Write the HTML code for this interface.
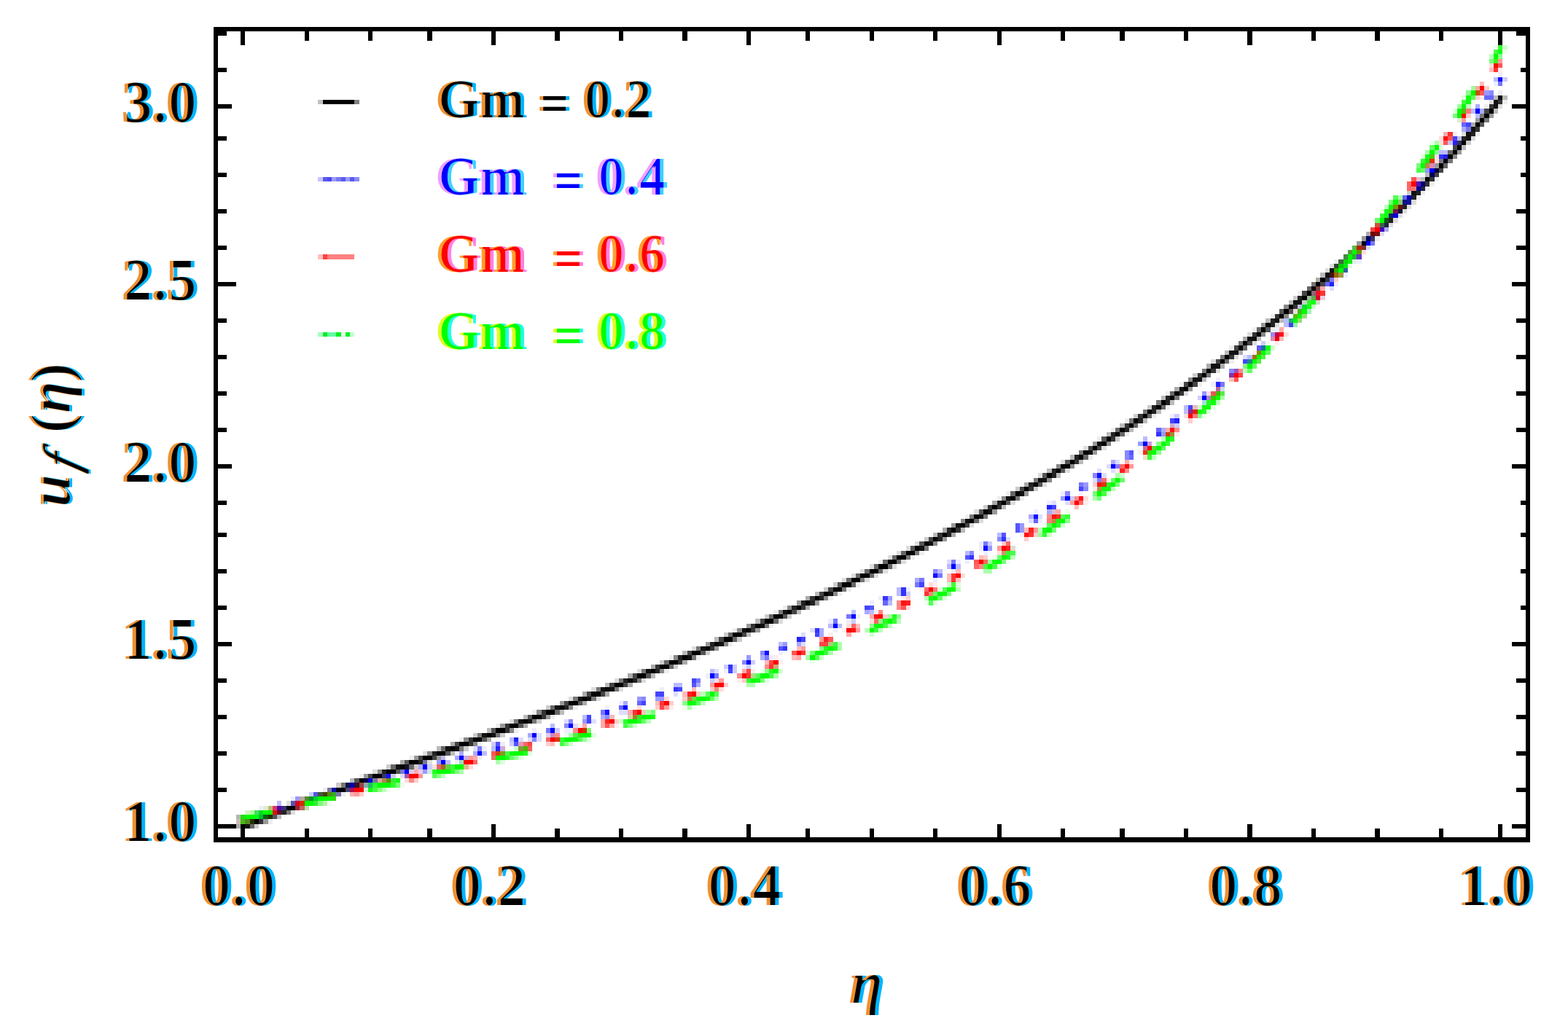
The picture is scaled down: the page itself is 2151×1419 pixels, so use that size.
<!DOCTYPE html>
<html lang="en"><head><meta charset="utf-8"><title>Velocity profile for different Gm</title>
<style>html,body{margin:0;padding:0;background:#fff;}svg{display:block;}text{font-family:"Liberation Serif","DejaVu Serif",serif;}.tk{font-weight:bold;font-size:81.25px;fill:#000;}.lg{font-weight:bold;font-size:75.00px;white-space:pre;}.ax{font-weight:bold;font-style:italic;font-size:81.25px;fill:#000;}</style></head><body>
<svg width="2151" height="1419" viewBox="0 0 2151 1419">
<rect x="0" y="0" width="2151" height="1419" fill="#ffffff"/>
<defs>
<filter id="fk" x="-5%" y="-20%" width="110%" height="140%" color-interpolation-filters="sRGB"><feMorphology in="SourceGraphic" operator="erode" radius="2.40 0" result="core"/><feOffset in="SourceGraphic" dx="-3.20" dy="0" result="lo"/><feFlood flood-color="#f09030"/><feComposite in2="lo" operator="in" result="lf"/><feOffset in="SourceGraphic" dx="3.20" dy="0" result="ro"/><feFlood flood-color="#00b4ff"/><feComposite in2="ro" operator="in" result="rf"/><feMerge><feMergeNode in="rf"/><feMergeNode in="lf"/><feMergeNode in="core"/></feMerge></filter>
<filter id="fy" x="-5%" y="-20%" width="110%" height="140%" color-interpolation-filters="sRGB"><feMorphology in="SourceGraphic" operator="erode" radius="0 1.20" result="base"/><feMorphology in="base" operator="erode" radius="0.60 0" result="core"/><feOffset in="base" dx="-3.00" dy="0" result="lo"/><feFlood flood-color="#f09030"/><feComposite in2="lo" operator="in" result="lf"/><feOffset in="base" dx="3.00" dy="0" result="ro"/><feFlood flood-color="#00b4ff"/><feComposite in2="ro" operator="in" result="rf"/><feMerge><feMergeNode in="rf"/><feMergeNode in="lf"/><feMergeNode in="core"/></feMerge></filter>
<filter id="ff" x="-5%" y="-20%" width="110%" height="140%" color-interpolation-filters="sRGB"><feOffset in="SourceGraphic" dx="-2.50" dy="0" result="lo"/><feFlood flood-color="#f09030"/><feComposite in2="lo" operator="in" result="lf"/><feOffset in="SourceGraphic" dx="2.50" dy="0" result="ro"/><feFlood flood-color="#00b4ff"/><feComposite in2="ro" operator="in" result="rf"/><feMerge><feMergeNode in="rf"/><feMergeNode in="lf"/><feMergeNode in="SourceGraphic"/></feMerge></filter>
<filter id="fb" x="-5%" y="-20%" width="110%" height="140%" color-interpolation-filters="sRGB"><feMorphology in="SourceGraphic" operator="erode" radius="2.20 0" result="core"/><feOffset in="SourceGraphic" dx="-3.00" dy="0" result="lo"/><feFlood flood-color="#f0a0ff"/><feComposite in2="lo" operator="in" result="lf"/><feOffset in="SourceGraphic" dx="3.00" dy="0" result="ro"/><feFlood flood-color="#40d0ff"/><feComposite in2="ro" operator="in" result="rf"/><feMerge><feMergeNode in="rf"/><feMergeNode in="lf"/><feMergeNode in="core"/></feMerge></filter>
<filter id="fr" x="-5%" y="-20%" width="110%" height="140%" color-interpolation-filters="sRGB"><feMorphology in="SourceGraphic" operator="erode" radius="2.20 0" result="core"/><feOffset in="SourceGraphic" dx="-3.00" dy="0" result="lo"/><feFlood flood-color="#ffa030"/><feComposite in2="lo" operator="in" result="lf"/><feOffset in="SourceGraphic" dx="3.00" dy="0" result="ro"/><feFlood flood-color="#ff80e0"/><feComposite in2="ro" operator="in" result="rf"/><feMerge><feMergeNode in="rf"/><feMergeNode in="lf"/><feMergeNode in="core"/></feMerge></filter>
<filter id="fg" x="-5%" y="-20%" width="110%" height="140%" color-interpolation-filters="sRGB"><feMorphology in="SourceGraphic" operator="erode" radius="2.20 0" result="core"/><feOffset in="SourceGraphic" dx="-3.00" dy="0" result="lo"/><feFlood flood-color="#e0ff20"/><feComposite in2="lo" operator="in" result="lf"/><feOffset in="SourceGraphic" dx="3.00" dy="0" result="ro"/><feFlood flood-color="#20ffe0"/><feComposite in2="ro" operator="in" result="rf"/><feMerge><feMergeNode in="rf"/><feMergeNode in="lf"/><feMergeNode in="core"/></feMerge></filter>
</defs>
<g transform="translate(5.000 5.650) scale(6.2500)" shape-rendering="crispEdges">
<path fill="#000000" d="M326 23h1v1h-1zM325 24h1v1h-1zM324 25h1v1h-1zM323 26h1v1h-1zM320 30h1v1h-1zM319 31h1v1h-1zM318 32h1v1h-1zM317 33h1v1h-1zM315 35h1v1h-1zM312 38h1v1h-1zM289 60h1v1h-1zM288 61h1v1h-1zM287 62h1v1h-1zM286 63h1v1h-1zM285 64h1v1h-1zM282 66h1v1h-1zM281 67h1v1h-1zM280 68h1v1h-1zM277 70h1v1h-1zM276 71h1v1h-1zM275 72h1v1h-1zM272 74h1v1h-1zM271 75h1v1h-1zM268 77h1v1h-1zM267 78h1v1h-1zM264 80h1v1h-1zM263 81h1v1h-1zM260 83h1v1h-1zM259 84h1v1h-1zM257 85h1v1h-1zM256 86h1v1h-1zM254 87h1v1h-1zM253 88h1v1h-1zM251 89h1v1h-1zM250 90h1v1h-1zM248 91h1v1h-1zM247 92h1v1h-1zM245 93h1v1h-1zM244 94h1v1h-1zM242 95h1v1h-1zM241 96h1v1h-1zM239 97h1v1h-1zM237 98h1v1h-1zM236 99h1v1h-1zM234 100h1v1h-1zM232 101h2v1h-2zM231 102h1v1h-1zM229 103h1v1h-1zM226 105h1v1h-1zM224 106h1v1h-1zM222 107h1v1h-1zM221 108h1v1h-1zM219 109h1v1h-1zM217 110h1v1h-1zM215 111h1v1h-1zM213 112h1v1h-1zM212 113h1v1h-1zM210 114h1v1h-1zM208 115h1v1h-1zM206 116h1v1h-1zM204 117h1v1h-1zM202 118h1v1h-1zM200 119h1v1h-1zM198 120h2v1h-2zM196 121h2v1h-2zM194 122h2v1h-2zM192 123h2v1h-2zM190 124h2v1h-2zM188 125h2v1h-2zM186 126h2v1h-2zM184 127h2v1h-2zM182 128h2v1h-2zM180 129h1v1h-1zM178 130h1v1h-1zM176 131h1v1h-1zM174 132h1v1h-1zM172 133h1v1h-1zM169 134h2v1h-2zM167 135h2v1h-2zM165 136h1v1h-1zM163 137h1v1h-1zM160 138h2v1h-2zM158 139h2v1h-2zM156 140h1v1h-1zM154 141h1v1h-1zM151 142h2v1h-2zM149 143h1v1h-1zM146 144h2v1h-2zM144 145h2v1h-2zM142 146h1v1h-1zM139 147h2v1h-2zM137 148h1v1h-1zM134 149h2v1h-2zM132 150h1v1h-1zM129 151h2v1h-2zM127 152h1v1h-1zM124 153h2v1h-2zM122 154h1v1h-1zM119 155h2v1h-2zM116 156h2v1h-2zM114 157h1v1h-1zM111 158h2v1h-2zM108 159h2v1h-2zM106 160h1v1h-1zM103 161h2v1h-2zM100 162h2v1h-2zM98 163h1v1h-1zM95 164h2v1h-2zM92 165h2v1h-2zM89 166h2v1h-2zM87 167h1v1h-1zM84 168h2v1h-2zM81 169h2v1h-2zM78 170h1v1h-1zM74 172h1v1h-1zM62 176h1v1h-1zM55 179h1v1h-1zM52 180h1v1h-1z"/>
<path fill="#000011" d="M316 34h1v1h-1zM298 52h1v1h-1zM73 172h1v1h-1zM63 176h1v1h-1z"/>
<path fill="#000033" d="M314 36h1v1h-1z"/>
<path fill="#000044" d="M79 170h1v1h-1z"/>
<path fill="#000055" d="M313 37h1v1h-1z"/>
<path fill="#000066" d="M299 51h1v1h-1z"/>
<path fill="#000077" d="M311 39h1v1h-1z"/>
<path fill="#000099" d="M310 40h1v1h-1z"/>
<path fill="#0000bb" d="M308 42h1v1h-1zM76 171h1v1h-1z"/>
<path fill="#0000dd" d="M305 46h1v1h-1zM80 170h1v1h-1z"/>
<path fill="#0000ee" d="M299 52h1v1h-1z"/>
<path fill="#0000ff" d="M323 23h1v1h-1zM313 36h1v1h-1zM263 86h1v1h-1zM250 96h1v1h-1zM243 101h1v1h-1zM233 108h1v1h-1zM208 123h1v1h-1zM186 134h1v1h-1zM182 136h1v1h-1zM163 144h1v1h-1zM155 147h1v1h-1zM136 154h1v1h-1zM124 158h1v1h-1zM120 159h1v1h-1zM116 160h1v1h-1zM104 164h1v1h-1zM100 165h1v1h-1zM96 166h1v1h-1zM92 167h1v1h-1zM88 168h1v1h-1z"/>
<path fill="#006611" d="M57 178h1v1h-1z"/>
<path fill="#009922" d="M67 174h1v1h-1z"/>
<path fill="#00bb33" d="M56 178h1v1h-1z"/>
<path fill="#00cc00" d="M293 57h1v1h-1z"/>
<path fill="#00cc33" d="M68 174h1v1h-1z"/>
<path fill="#00dd00" d="M294 56h1v1h-1z"/>
<path fill="#00dd22" d="M56 177h1v1h-1z"/>
<path fill="#00ee11" d="M294 57h1v1h-1z"/>
<path fill="#00ff00" d="M327 11h1v1h-1zM322 19h1v1h-1zM320 22h1v1h-1zM319 23h1v1h-1zM314 31h1v1h-1zM313 32h1v1h-1zM311 35h1v1h-1zM305 43h1v1h-1zM304 44h1v1h-1zM302 47h1v1h-1zM296 54h1v1h-1zM295 55h1v1h-1zM293 58h1v1h-1zM285 67h1v1h-1zM284 68h1v1h-1zM283 69h1v1h-1zM276 76h1v1h-1zM275 77h1v1h-1zM274 78h1v1h-1zM273 79h1v1h-1zM254 96h1v1h-1zM253 97h1v1h-1zM252 98h1v1h-1zM244 104h1v1h-1zM243 105h1v1h-1zM240 107h1v1h-1zM232 113h1v1h-1zM230 114h1v1h-1zM229 115h1v1h-1zM219 121h1v1h-1zM218 122h1v1h-1zM216 123h1v1h-1zM207 128h1v1h-1zM205 129h1v1h-1zM204 130h1v1h-1zM194 135h1v1h-1zM192 136h1v1h-1zM190 137h1v1h-1zM181 141h1v1h-1zM178 142h2v1h-2zM177 143h1v1h-1zM169 146h1v1h-1zM166 147h2v1h-2zM164 148h1v1h-1zM155 151h1v1h-1zM153 152h1v1h-1zM150 153h1v1h-1zM140 156h2v1h-2zM137 157h2v1h-2zM127 160h2v1h-2zM123 161h2v1h-2zM112 164h2v1h-2zM108 165h2v1h-2zM99 167h2v1h-2zM95 168h3v1h-3zM82 171h3v1h-3zM69 174h3v1h-3zM66 175h2v1h-2zM57 177h1v1h-1zM53 178h2v1h-2z"/>
<path fill="#00ff11" d="M55 178h1v1h-1z"/>
<path fill="#111111" d="M328 20h1v1h-1zM327 21h1v1h-1zM327 22h1v1h-1zM322 27h1v1h-1zM321 28h1v1h-1zM321 29h1v1h-1zM309 41h1v1h-1zM291 58h1v1h-1zM290 59h1v1h-1zM283 65h2v1h-2zM279 69h1v1h-1zM273 73h2v1h-2zM269 76h2v1h-2zM265 79h2v1h-2zM261 82h2v1h-2zM258 84h1v1h-1zM240 96h1v1h-1zM238 98h1v1h-1zM227 104h2v1h-2zM223 107h1v1h-1zM220 108h1v1h-1zM216 111h1v1h-1zM214 112h1v1h-1zM211 113h1v1h-1zM209 114h1v1h-1zM203 118h1v1h-1zM201 119h1v1h-1zM181 129h1v1h-1zM171 133h1v1h-1zM166 136h1v1h-1zM162 137h1v1h-1zM157 140h1v1h-1zM153 141h1v1h-1zM150 143h1v1h-1zM141 146h1v1h-1zM131 150h1v1h-1zM133 150h1v1h-1zM126 152h1v1h-1zM128 152h1v1h-1zM121 154h1v1h-1zM113 157h1v1h-1zM115 157h1v1h-1zM105 160h1v1h-1zM107 160h1v1h-1zM97 163h1v1h-1zM99 163h1v1h-1zM86 167h1v1h-1zM53 180h1v1h-1z"/>
<path fill="#111122" d="M88 167h1v1h-1z"/>
<path fill="#111133" d="M306 45h1v1h-1z"/>
<path fill="#111144" d="M75 171h1v1h-1z"/>
<path fill="#111188" d="M307 43h1v1h-1z"/>
<path fill="#111199" d="M308 43h1v1h-1z"/>
<path fill="#1111aa" d="M72 172h1v1h-1z"/>
<path fill="#1111ff" d="M328 16h1v1h-1zM240 103h1v1h-1zM226 112h1v1h-1zM215 119h1v1h-1zM204 125h1v1h-1zM167 142h1v1h-1zM132 155h1v1h-1zM84 169h1v1h-1z"/>
<path fill="#112266" d="M304 46h1v1h-1z"/>
<path fill="#115511" d="M303 47h1v1h-1z"/>
<path fill="#117799" d="M276 75h1v1h-1z"/>
<path fill="#11dd33" d="M285 66h1v1h-1z"/>
<path fill="#11ee00" d="M312 34h1v1h-1zM58 177h1v1h-1z"/>
<path fill="#11ee11" d="M319 24h1v1h-1zM295 56h1v1h-1z"/>
<path fill="#11ff00" d="M266 86h1v1h-1zM262 89h1v1h-1z"/>
<path fill="#11ff11" d="M328 10h1v1h-1zM321 20h1v1h-1zM321 21h1v1h-1zM312 33h1v1h-1zM303 45h1v1h-1zM303 46h1v1h-1zM287 65h1v1h-1zM286 66h1v1h-1zM277 75h1v1h-1zM265 87h1v1h-1zM263 88h2v1h-2zM255 95h1v1h-1zM241 106h2v1h-2zM231 113h1v1h-1zM228 115h1v1h-1zM217 122h1v1h-1zM208 128h1v1h-1zM206 129h1v1h-1zM203 130h1v1h-1zM191 136h1v1h-1zM165 148h1v1h-1zM152 152h1v1h-1zM154 152h1v1h-1zM151 153h1v1h-1zM142 156h1v1h-1zM125 161h1v1h-1zM111 164h1v1h-1zM86 170h1v1h-1zM80 172h1v1h-1z"/>
<path fill="#222222" d="M322 28h1v1h-1zM320 29h1v1h-1zM310 41h1v1h-1zM309 42h1v1h-1zM307 44h1v1h-1zM304 47h1v1h-1zM284 64h1v1h-1zM278 69h1v1h-1zM278 70h1v1h-1zM255 86h1v1h-1zM255 87h1v1h-1zM252 88h1v1h-1zM252 89h1v1h-1zM249 91h1v1h-1zM246 93h1v1h-1zM243 94h1v1h-1zM235 99h1v1h-1zM230 102h1v1h-1zM230 103h1v1h-1zM225 105h1v1h-1zM218 109h1v1h-1zM207 115h1v1h-1zM207 116h1v1h-1zM205 117h1v1h-1zM179 130h1v1h-1zM175 131h1v1h-1zM177 131h1v1h-1zM173 132h1v1h-1zM155 140h1v1h-1zM148 143h1v1h-1zM143 146h1v1h-1zM136 148h1v1h-1zM138 148h1v1h-1zM123 154h1v1h-1zM94 164h1v1h-1zM91 166h1v1h-1zM83 168h1v1h-1zM61 177h1v1h-1z"/>
<path fill="#222244" d="M311 40h1v1h-1zM303 48h1v1h-1z"/>
<path fill="#2222dd" d="M316 33h1v1h-1z"/>
<path fill="#2222ff" d="M318 30h1v1h-1zM291 61h1v1h-1zM266 83h1v1h-1zM257 91h1v1h-1zM229 110h1v1h-1zM174 139h1v1h-1zM112 161h1v1h-1zM108 163h1v1h-1z"/>
<path fill="#223300" d="M58 178h1v1h-1zM54 179h1v1h-1z"/>
<path fill="#228888" d="M273 78h1v1h-1z"/>
<path fill="#22aa00" d="M292 58h1v1h-1z"/>
<path fill="#22aa77" d="M282 69h1v1h-1z"/>
<path fill="#22bb22" d="M296 55h1v1h-1z"/>
<path fill="#22bb66" d="M80 171h1v1h-1z"/>
<path fill="#22dd11" d="M52 178h1v1h-1z"/>
<path fill="#22ee11" d="M126 160h1v1h-1z"/>
<path fill="#22ff22" d="M286 65h1v1h-1zM264 87h1v1h-1zM263 89h1v1h-1zM256 95h1v1h-1zM220 121h1v1h-1zM195 134h1v1h-1zM193 135h1v1h-1zM180 141h1v1h-1zM182 141h1v1h-1zM168 146h1v1h-1zM139 157h1v1h-1zM114 164h1v1h-1zM110 165h1v1h-1zM94 168h1v1h-1z"/>
<path fill="#22ff33" d="M81 171h1v1h-1z"/>
<path fill="#331122" d="M77 171h1v1h-1z"/>
<path fill="#333333" d="M328 21h1v1h-1zM326 22h1v1h-1zM323 27h1v1h-1zM313 38h1v1h-1zM312 39h1v1h-1zM283 66h1v1h-1zM279 68h1v1h-1zM274 72h1v1h-1zM269 77h1v1h-1zM265 80h1v1h-1zM262 81h1v1h-1zM258 85h1v1h-1zM249 90h1v1h-1zM246 92h1v1h-1zM243 95h1v1h-1zM235 100h1v1h-1zM225 106h1v1h-1zM216 110h1v1h-1zM218 110h1v1h-1zM209 115h1v1h-1zM205 116h1v1h-1zM177 130h1v1h-1zM175 132h1v1h-1zM164 136h1v1h-1zM164 137h1v1h-1zM155 141h1v1h-1zM148 144h1v1h-1zM143 145h1v1h-1zM118 155h1v1h-1zM118 156h1v1h-1zM110 158h1v1h-1zM110 159h1v1h-1zM102 161h1v1h-1zM102 162h1v1h-1zM56 179h1v1h-1z"/>
<path fill="#333344" d="M290 60h1v1h-1z"/>
<path fill="#333355" d="M319 30h1v1h-1z"/>
<path fill="#333366" d="M300 51h1v1h-1z"/>
<path fill="#333377" d="M83 169h1v1h-1zM61 176h1v1h-1z"/>
<path fill="#3333ff" d="M315 33h1v1h-1zM253 94h1v1h-1zM219 117h1v1h-1zM212 121h1v1h-1zM197 128h1v1h-1zM197 129h1v1h-1zM193 130h1v1h-1zM178 137h1v1h-1zM171 141h1v1h-1zM159 145h1v1h-1zM147 150h1v1h-1z"/>
<path fill="#334433" d="M292 57h1v1h-1z"/>
<path fill="#336644" d="M302 48h1v1h-1z"/>
<path fill="#336699" d="M294 58h1v1h-1z"/>
<path fill="#33aa22" d="M72 173h1v1h-1z"/>
<path fill="#33cc00" d="M265 86h1v1h-1z"/>
<path fill="#33dd11" d="M304 45h1v1h-1zM251 98h1v1h-1zM72 174h1v1h-1z"/>
<path fill="#33ee22" d="M242 105h1v1h-1z"/>
<path fill="#33ee33" d="M85 170h1v1h-1zM68 175h1v1h-1z"/>
<path fill="#33ff33" d="M328 9h1v1h-1zM311 34h1v1h-1zM302 46h1v1h-1zM255 96h1v1h-1zM251 99h1v1h-1zM233 112h1v1h-1zM231 114h1v1h-1zM228 116h1v1h-1zM220 120h1v1h-1zM195 135h1v1h-1zM182 140h1v1h-1zM180 142h1v1h-1zM163 148h1v1h-1zM136 157h1v1h-1zM122 161h1v1h-1zM98 167h1v1h-1zM98 168h1v1h-1zM85 171h1v1h-1z"/>
<path fill="#4400bb" d="M302 49h1v1h-1z"/>
<path fill="#441111" d="M291 59h1v1h-1z"/>
<path fill="#444400" d="M70 173h1v1h-1z"/>
<path fill="#444444" d="M325 23h1v1h-1zM318 31h1v1h-1zM315 36h1v1h-1zM314 37h1v1h-1zM289 61h1v1h-1zM285 63h1v1h-1zM273 74h1v1h-1zM270 75h1v1h-1zM266 78h1v1h-1zM259 83h1v1h-1zM261 83h1v1h-1zM238 97h1v1h-1zM240 97h1v1h-1zM223 106h1v1h-1zM211 114h1v1h-1zM203 117h1v1h-1zM181 128h1v1h-1zM179 129h1v1h-1zM173 133h1v1h-1zM166 135h1v1h-1zM162 138h1v1h-1zM157 139h1v1h-1zM150 142h1v1h-1zM138 147h1v1h-1zM133 149h1v1h-1zM136 149h1v1h-1zM128 151h1v1h-1zM131 151h1v1h-1zM123 153h1v1h-1zM99 162h1v1h-1zM91 165h1v1h-1zM94 165h1v1h-1zM80 169h1v1h-1z"/>
<path fill="#444477" d="M75 172h1v1h-1z"/>
<path fill="#4444ee" d="M282 70h1v1h-1z"/>
<path fill="#4444ff" d="M321 26h1v1h-1zM318 29h1v1h-1zM272 78h1v1h-1zM260 88h1v1h-1zM256 91h1v1h-1zM236 106h1v1h-1zM230 110h1v1h-1zM201 127h1v1h-1zM189 132h1v1h-1zM178 138h1v1h-1zM175 139h1v1h-1zM159 146h1v1h-1zM151 148h1v1h-1zM148 150h1v1h-1zM143 151h2v1h-2zM140 153h1v1h-1zM128 156h1v1h-1zM128 157h1v1h-1z"/>
<path fill="#445544" d="M69 173h1v1h-1z"/>
<path fill="#446644" d="M293 56h1v1h-1z"/>
<path fill="#448844" d="M294 55h1v1h-1z"/>
<path fill="#44bb00" d="M266 85h1v1h-1zM114 163h1v1h-1z"/>
<path fill="#44bb11" d="M284 67h1v1h-1zM52 179h1v1h-1z"/>
<path fill="#44cc11" d="M313 33h1v1h-1z"/>
<path fill="#44dd33" d="M139 156h1v1h-1z"/>
<path fill="#44dd66" d="M55 177h1v1h-1z"/>
<path fill="#44ee22" d="M327 12h1v1h-1z"/>
<path fill="#44ff33" d="M208 127h1v1h-1z"/>
<path fill="#44ff44" d="M327 10h1v1h-1zM320 21h1v1h-1zM310 36h1v1h-1zM241 107h1v1h-1zM221 120h1v1h-1zM215 123h1v1h-1zM217 123h1v1h-1zM193 136h1v1h-1zM191 137h1v1h-1zM168 147h1v1h-1zM136 158h1v1h-1zM122 162h1v1h-1zM110 164h1v1h-1zM81 172h1v1h-1z"/>
<path fill="#5500aa" d="M60 176h1v1h-1z"/>
<path fill="#5511bb" d="M310 39h1v1h-1z"/>
<path fill="#555555" d="M324 26h1v1h-1zM280 67h1v1h-1zM282 67h1v1h-1zM277 71h1v1h-1zM241 95h1v1h-1zM233 100h1v1h-1zM232 102h1v1h-1zM228 103h1v1h-1zM227 105h1v1h-1zM220 109h1v1h-1zM214 111h1v1h-1zM201 118h1v1h-1zM199 119h1v1h-1zM183 127h1v1h-1zM171 134h1v1h-1zM153 142h1v1h-1zM141 147h1v1h-1zM126 153h1v1h-1zM115 156h1v1h-1zM113 158h1v1h-1zM107 159h1v1h-1zM105 161h1v1h-1zM97 164h1v1h-1zM88 166h1v1h-1zM86 168h1v1h-1zM77 170h1v1h-1zM59 178h1v1h-1z"/>
<path fill="#5555aa" d="M63 175h1v1h-1z"/>
<path fill="#5555dd" d="M68 173h1v1h-1z"/>
<path fill="#5555ff" d="M247 98h1v1h-1zM222 114h1v1h-1zM222 115h1v1h-1zM219 116h1v1h-1zM211 121h1v1h-1zM190 132h1v1h-1zM170 141h1v1h-1zM151 149h1v1h-1zM108 162h1v1h-1zM112 162h1v1h-1z"/>
<path fill="#558811" d="M71 173h1v1h-1z"/>
<path fill="#558822" d="M53 179h1v1h-1z"/>
<path fill="#558833" d="M66 174h1v1h-1z"/>
<path fill="#559944" d="M295 54h1v1h-1z"/>
<path fill="#55aa55" d="M287 64h1v1h-1z"/>
<path fill="#55bb11" d="M320 23h1v1h-1zM283 68h1v1h-1z"/>
<path fill="#55bb44" d="M296 53h1v1h-1z"/>
<path fill="#55dd33" d="M252 97h1v1h-1z"/>
<path fill="#55ee44" d="M276 77h1v1h-1zM275 78h1v1h-1zM267 85h1v1h-1zM125 160h1v1h-1z"/>
<path fill="#55ff55" d="M322 20h1v1h-1zM305 42h1v1h-1zM277 76h1v1h-1zM254 97h1v1h-1zM232 112h1v1h-1zM229 114h1v1h-1zM206 128h1v1h-1zM203 131h1v1h-1zM178 143h1v1h-1zM165 147h1v1h-1zM154 151h1v1h-1zM156 151h1v1h-1zM152 153h1v1h-1zM126 161h1v1h-1zM94 169h1v1h-1z"/>
<path fill="#660033" d="M60 177h1v1h-1z"/>
<path fill="#661111" d="M306 44h1v1h-1z"/>
<path fill="#6633cc" d="M297 55h1v1h-1z"/>
<path fill="#6655ff" d="M275 75h1v1h-1z"/>
<path fill="#666666" d="M317 32h1v1h-1zM316 35h1v1h-1zM286 62h1v1h-1zM275 71h1v1h-1zM272 75h1v1h-1zM268 78h1v1h-1zM256 85h1v1h-1zM254 88h1v1h-1zM251 90h1v1h-1zM248 92h1v1h-1zM244 93h1v1h-1zM245 94h1v1h-1zM237 99h1v1h-1zM221 107h1v1h-1zM213 113h1v1h-1zM197 120h1v1h-1zM195 121h1v1h-1zM193 122h1v1h-1zM196 122h1v1h-1zM191 123h1v1h-1zM194 123h1v1h-1zM189 124h1v1h-1zM192 124h1v1h-1zM187 125h1v1h-1zM190 125h1v1h-1zM185 126h1v1h-1zM186 127h1v1h-1zM168 134h1v1h-1zM169 135h1v1h-1zM159 138h1v1h-1zM160 139h1v1h-1zM145 144h1v1h-1zM146 145h1v1h-1zM120 154h1v1h-1zM121 155h1v1h-1zM96 163h1v1h-1zM85 167h1v1h-1zM89 167h1v1h-1zM54 180h1v1h-1z"/>
<path fill="#6666ee" d="M307 42h1v1h-1z"/>
<path fill="#6666ff" d="M325 20h2v1h-2zM320 26h1v1h-1zM290 61h1v1h-1zM253 93h1v1h-1zM247 99h1v1h-1zM226 113h1v1h-1zM193 131h1v1h-1zM139 153h1v1h-1zM135 154h1v1h-1z"/>
<path fill="#668811" d="M84 170h1v1h-1z"/>
<path fill="#669900" d="M297 54h1v1h-1z"/>
<path fill="#66cc44" d="M97 167h1v1h-1z"/>
<path fill="#66dd44" d="M151 152h1v1h-1z"/>
<path fill="#66ff66" d="M313 31h1v1h-1zM311 36h1v1h-1zM301 47h1v1h-1zM274 79h1v1h-1zM273 80h1v1h-1zM243 104h1v1h-1zM245 104h1v1h-1zM218 121h1v1h-1zM204 129h1v1h-1zM205 130h1v1h-1zM155 152h1v1h-1zM140 157h1v1h-1zM111 165h1v1h-1z"/>
<path fill="#770000" d="M300 50h1v1h-1z"/>
<path fill="#771111" d="M301 50h1v1h-1z"/>
<path fill="#771155" d="M305 45h1v1h-1z"/>
<path fill="#773333" d="M298 53h1v1h-1z"/>
<path fill="#774444" d="M288 62h1v1h-1z"/>
<path fill="#777777" d="M324 24h1v1h-1zM325 25h1v1h-1zM317 34h1v1h-1zM287 61h1v1h-1zM271 74h1v1h-1zM267 77h1v1h-1zM263 80h1v1h-1zM264 81h1v1h-1zM257 86h1v1h-1zM253 87h1v1h-1zM250 89h1v1h-1zM247 91h1v1h-1zM236 98h1v1h-1zM226 104h1v1h-1zM222 108h1v1h-1zM212 112h1v1h-1zM215 112h1v1h-1zM202 119h1v1h-1zM200 120h1v1h-1zM198 121h1v1h-1zM188 126h1v1h-1zM184 128h1v1h-1zM170 133h1v1h-1zM167 136h1v1h-1zM152 141h1v1h-1zM151 143h1v1h-1zM140 146h1v1h-1zM135 148h1v1h-1zM139 148h1v1h-1zM130 150h1v1h-1zM134 150h1v1h-1zM125 152h1v1h-1zM129 152h1v1h-1zM112 157h1v1h-1zM116 157h1v1h-1zM104 160h1v1h-1zM108 160h1v1h-1zM100 163h1v1h-1zM74 171h1v1h-1zM62 177h1v1h-1z"/>
<path fill="#777788" d="M315 34h1v1h-1z"/>
<path fill="#777799" d="M92 166h1v1h-1zM81 170h1v1h-1zM71 172h1v1h-1z"/>
<path fill="#7777aa" d="M73 173h1v1h-1z"/>
<path fill="#7777cc" d="M87 168h1v1h-1z"/>
<path fill="#7777dd" d="M321 27h1v1h-1z"/>
<path fill="#7777ee" d="M291 60h1v1h-1z"/>
<path fill="#7777ff" d="M328 17h1v1h-1zM300 52h1v1h-1zM267 83h1v1h-1zM236 105h1v1h-1zM215 118h1v1h-1zM208 122h1v1h-1zM205 125h1v1h-1zM201 126h1v1h-1zM200 127h1v1h-1zM185 134h1v1h-1zM182 135h1v1h-1zM167 143h1v1h-1zM156 147h1v1h-1zM152 148h1v1h-1zM131 155h1v1h-1zM119 159h1v1h-1zM104 163h1v1h-1z"/>
<path fill="#779900" d="M305 44h1v1h-1z"/>
<path fill="#77ff77" d="M326 12h1v1h-1zM318 24h1v1h-1zM310 35h1v1h-1zM304 43h1v1h-1zM244 105h1v1h-1zM239 107h1v1h-1zM240 108h1v1h-1zM230 115h1v1h-1zM219 122h1v1h-1zM207 129h1v1h-1zM177 142h1v1h-1zM166 148h1v1h-1zM142 155h1v1h-1zM99 168h1v1h-1zM86 171h1v1h-1zM69 175h1v1h-1z"/>
<path fill="#8833aa" d="M269 81h1v1h-1z"/>
<path fill="#886677" d="M287 63h1v1h-1z"/>
<path fill="#8877ee" d="M240 104h1v1h-1z"/>
<path fill="#8877ff" d="M244 101h1v1h-1z"/>
<path fill="#888811" d="M275 76h1v1h-1z"/>
<path fill="#888888" d="M318 33h1v1h-1zM281 66h1v1h-1zM281 68h1v1h-1zM276 72h1v1h-1zM260 82h1v1h-1zM242 96h1v1h-1zM231 101h1v1h-1zM234 101h1v1h-1zM229 104h1v1h-1zM219 108h1v1h-1zM210 113h1v1h-1zM204 118h1v1h-1zM182 129h1v1h-1zM180 130h1v1h-1zM172 132h1v1h-1zM161 137h1v1h-1zM158 140h1v1h-1zM147 143h1v1h-1zM144 146h1v1h-1zM124 154h1v1h-1zM117 155h1v1h-1zM111 159h1v1h-1zM101 161h1v1h-1zM103 162h1v1h-1zM93 164h1v1h-1zM82 168h1v1h-1z"/>
<path fill="#8888ff" d="M326 19h1v1h-1zM269 80h1v1h-1zM246 98h1v1h-1zM246 99h1v1h-1zM239 103h1v1h-1zM237 106h1v1h-1zM233 107h1v1h-1zM218 117h1v1h-1zM212 120h1v1h-1zM204 124h1v1h-1zM166 142h1v1h-1zM162 144h1v1h-1zM140 152h1v1h-1zM132 156h1v1h-1zM124 157h1v1h-1zM123 158h1v1h-1zM116 161h1v1h-1z"/>
<path fill="#889922" d="M109 164h1v1h-1z"/>
<path fill="#889933" d="M113 163h1v1h-1z"/>
<path fill="#88aaaa" d="M79 171h1v1h-1z"/>
<path fill="#88cc66" d="M306 43h1v1h-1z"/>
<path fill="#88ee77" d="M128 159h1v1h-1z"/>
<path fill="#88ee88" d="M272 79h1v1h-1z"/>
<path fill="#88ff77" d="M82 172h1v1h-1z"/>
<path fill="#88ff88" d="M328 11h1v1h-1zM321 19h1v1h-1zM314 32h1v1h-1zM262 90h1v1h-1zM253 96h1v1h-1zM253 98h1v1h-1zM233 113h1v1h-1zM196 134h1v1h-1zM190 136h1v1h-1zM179 141h1v1h-1zM167 146h1v1h-1zM149 153h1v1h-1zM137 158h1v1h-1zM123 162h1v1h-1zM95 169h1v1h-1z"/>
<path fill="#992233" d="M64 176h1v1h-1z"/>
<path fill="#992288" d="M260 89h1v1h-1z"/>
<path fill="#994444" d="M78 171h1v1h-1z"/>
<path fill="#9955bb" d="M270 80h1v1h-1z"/>
<path fill="#996600" d="M292 59h1v1h-1z"/>
<path fill="#997711" d="M274 77h1v1h-1z"/>
<path fill="#998822" d="M138 156h1v1h-1z"/>
<path fill="#9988ee" d="M278 72h1v1h-1z"/>
<path fill="#999944" d="M293 59h1v1h-1z"/>
<path fill="#999999" d="M326 24h1v1h-1zM323 25h1v1h-1zM319 32h1v1h-1zM314 35h1v1h-1zM298 51h1v1h-1zM297 52h1v1h-1zM276 70h1v1h-1zM260 84h1v1h-1zM239 96h1v1h-1zM239 98h1v1h-1zM224 107h1v1h-1zM217 111h1v1h-1zM208 114h1v1h-1zM206 117h1v1h-1zM174 131h1v1h-1zM178 131h1v1h-1zM163 136h1v1h-1zM165 137h1v1h-1zM154 140h1v1h-1zM156 141h1v1h-1zM122 153h1v1h-1zM119 156h1v1h-1zM109 158h1v1h-1zM90 165h1v1h-1zM95 165h1v1h-1zM79 169h1v1h-1zM57 179h1v1h-1z"/>
<path fill="#9999ee" d="M254 94h1v1h-1z"/>
<path fill="#9999ff" d="M325 19h1v1h-1zM312 36h1v1h-1zM263 85h1v1h-1zM249 96h1v1h-1zM237 105h1v1h-1zM232 108h1v1h-1zM223 114h1v1h-1zM223 115h1v1h-1zM216 119h1v1h-1zM194 130h1v1h-1zM171 140h1v1h-1zM163 143h1v1h-1zM139 152h1v1h-1zM143 152h2v1h-2zM127 157h1v1h-1zM95 166h1v1h-1zM92 168h1v1h-1zM64 174h1v1h-1z"/>
<path fill="#99bb99" d="M286 64h1v1h-1z"/>
<path fill="#99dd77" d="M285 68h1v1h-1zM284 69h1v1h-1z"/>
<path fill="#99ddbb" d="M100 166h1v1h-1z"/>
<path fill="#99ee88" d="M192 135h1v1h-1z"/>
<path fill="#99eeaa" d="M283 70h1v1h-1z"/>
<path fill="#99ff99" d="M322 18h1v1h-1zM319 22h1v1h-1zM227 116h1v1h-1zM216 122h1v1h-1zM194 134h1v1h-1zM127 161h1v1h-1zM112 165h1v1h-1z"/>
<path fill="#aa1155" d="M76 172h1v1h-1z"/>
<path fill="#aa55aa" d="M88 169h1v1h-1z"/>
<path fill="#aa6622" d="M96 167h1v1h-1z"/>
<path fill="#aa8833" d="M256 94h1v1h-1z"/>
<path fill="#aa8855" d="M83 170h1v1h-1z"/>
<path fill="#aa88bb" d="M264 86h1v1h-1z"/>
<path fill="#aa9944" d="M240 106h1v1h-1z"/>
<path fill="#aaaaaa" d="M322 26h1v1h-1zM299 50h1v1h-1zM288 60h1v1h-1zM272 73h1v1h-1zM271 76h1v1h-1zM264 79h1v1h-1zM267 79h1v1h-1zM257 84h1v1h-1zM224 105h1v1h-1zM217 109h1v1h-1zM206 115h1v1h-1zM208 116h1v1h-1zM176 130h1v1h-1zM176 132h1v1h-1zM149 144h1v1h-1zM142 145h1v1h-1zM137 147h1v1h-1zM137 149h1v1h-1zM127 151h1v1h-1zM132 151h1v1h-1zM127 153h1v1h-1zM114 158h1v1h-1zM106 161h1v1h-1zM98 162h1v1h-1zM87 166h1v1h-1zM51 180h1v1h-1zM52 181h1v1h-1z"/>
<path fill="#aaaaee" d="M303 49h1v1h-1z"/>
<path fill="#aaaaff" d="M323 22h1v1h-1zM324 23h1v1h-1zM320 27h1v1h-1zM254 93h1v1h-1zM243 100h1v1h-1zM229 111h1v1h-1zM225 112h1v1h-1zM200 126h1v1h-1zM189 133h1v1h-1zM179 137h1v1h-1zM179 138h1v1h-1zM174 140h1v1h-1zM166 143h1v1h-1zM152 149h1v1h-1zM136 153h1v1h-1zM131 156h1v1h-1zM115 160h1v1h-1zM100 164h1v1h-1zM103 164h1v1h-1zM99 165h1v1h-1zM91 167h1v1h-1z"/>
<path fill="#aabbaa" d="M51 178h1v1h-1z"/>
<path fill="#aacc77" d="M181 140h1v1h-1z"/>
<path fill="#aadd88" d="M164 147h1v1h-1z"/>
<path fill="#aadddd" d="M263 87h1v1h-1z"/>
<path fill="#aaeebb" d="M286 67h1v1h-1z"/>
<path fill="#aaff99" d="M54 177h1v1h-1z"/>
<path fill="#aaffaa" d="M314 30h1v1h-1zM312 32h1v1h-1zM306 42h1v1h-1zM267 86h1v1h-1zM244 103h1v1h-1zM239 108h1v1h-1zM215 124h2v1h-2zM183 140h1v1h-1zM183 141h1v1h-1zM181 142h1v1h-1zM176 143h1v1h-1zM169 147h1v1h-1zM163 149h2v1h-2zM150 154h1v1h-1zM141 155h1v1h-1zM124 160h1v1h-1zM108 166h1v1h-1zM100 168h1v1h-1z"/>
<path fill="#bb2200" d="M297 53h1v1h-1z"/>
<path fill="#bb5500" d="M323 19h1v1h-1z"/>
<path fill="#bb6666" d="M65 176h1v1h-1z"/>
<path fill="#bb6699" d="M266 84h1v1h-1z"/>
<path fill="#bb8844" d="M312 35h1v1h-1zM230 113h1v1h-1zM150 152h1v1h-1z"/>
<path fill="#bbaa99" d="M65 174h1v1h-1z"/>
<path fill="#bbbb77" d="M58 176h1v1h-1z"/>
<path fill="#bbbbbb" d="M327 20h1v1h-1zM329 20h1v1h-1zM327 23h1v1h-1zM320 31h1v1h-1zM312 37h1v1h-1zM311 38h1v1h-1zM289 59h1v1h-1zM282 65h1v1h-1zM277 69h1v1h-1zM280 69h1v1h-1zM275 73h1v1h-1zM268 76h1v1h-1zM263 82h1v1h-1zM254 86h1v1h-1zM256 87h1v1h-1zM253 89h1v1h-1zM250 91h1v1h-1zM245 92h1v1h-1zM247 93h1v1h-1zM242 94h1v1h-1zM234 99h1v1h-1zM236 100h1v1h-1zM229 102h1v1h-1zM231 103h1v1h-1zM219 110h1v1h-1zM210 115h1v1h-1zM204 116h1v1h-1zM178 129h1v1h-1zM174 133h1v1h-1zM165 135h1v1h-1zM163 138h1v1h-1zM156 139h1v1h-1zM149 142h1v1h-1zM142 147h1v1h-1zM132 149h1v1h-1zM122 155h1v1h-1zM114 156h1v1h-1zM106 159h1v1h-1zM95 163h1v1h-1zM98 164h1v1h-1zM76 170h1v1h-1zM60 178h1v1h-1z"/>
<path fill="#bbbbdd" d="M284 66h1v1h-1z"/>
<path fill="#bbbbee" d="M319 29h1v1h-1zM96 165h1v1h-1z"/>
<path fill="#bbbbff" d="M327 16h1v1h-1zM322 23h1v1h-1zM323 24h1v1h-1zM315 32h2v1h-2zM281 69h1v1h-1zM281 70h1v1h-1zM273 77h1v1h-1zM259 88h1v1h-1zM259 89h1v1h-1zM250 95h1v1h-1zM218 116h1v1h-1zM211 120h1v1h-1zM207 123h1v1h-1zM209 123h1v1h-1zM205 124h1v1h-1zM196 128h1v1h-1zM196 129h1v1h-1zM194 131h1v1h-1zM186 133h1v1h-1zM190 133h1v1h-1zM181 136h1v1h-1zM183 136h1v1h-1zM170 140h1v1h-1zM155 146h1v1h-1zM147 149h2v1h-2zM127 156h1v1h-1zM120 158h1v1h-1zM111 161h1v1h-1zM107 163h1v1h-1zM105 164h1v1h-1zM97 166h1v1h-1zM60 175h1v1h-1z"/>
<path fill="#bbddaa" d="M66 176h1v1h-1z"/>
<path fill="#bbeeaa" d="M70 175h1v1h-1z"/>
<path fill="#bbffbb" d="M326 11h1v1h-1zM321 22h1v1h-1zM303 44h1v1h-1zM272 80h1v1h-1zM266 87h1v1h-1zM254 95h1v1h-1zM252 99h1v1h-1zM243 106h1v1h-1zM227 115h1v1h-1zM221 121h1v1h-1zM209 128h1v1h-1zM202 130h1v1h-1zM196 135h1v1h-1zM194 136h1v1h-1zM189 137h1v1h-1zM192 137h1v1h-1zM153 151h1v1h-1zM156 152h1v1h-1zM153 153h1v1h-1zM141 157h1v1h-1zM96 169h1v1h-1zM83 172h1v1h-1z"/>
<path fill="#cc0044" d="M279 72h1v1h-1z"/>
<path fill="#cc3300" d="M127 159h1v1h-1zM65 175h1v1h-1z"/>
<path fill="#cc4411" d="M255 94h1v1h-1zM108 164h1v1h-1z"/>
<path fill="#cc5533" d="M301 48h1v1h-1z"/>
<path fill="#cc6699" d="M250 97h1v1h-1z"/>
<path fill="#cc88bb" d="M120 160h1v1h-1z"/>
<path fill="#cc9966" d="M219 120h1v1h-1z"/>
<path fill="#cc99dd" d="M251 96h1v1h-1z"/>
<path fill="#ccaa77" d="M169 145h1v1h-1z"/>
<path fill="#ccaacc" d="M256 92h1v1h-1z"/>
<path fill="#ccaadd" d="M109 163h1v1h-1zM101 165h1v1h-1z"/>
<path fill="#ccbbbb" d="M51 179h1v1h-1z"/>
<path fill="#ccbbee" d="M317 30h1v1h-1z"/>
<path fill="#cccccc" d="M321 30h1v1h-1zM308 41h1v1h-1zM283 64h1v1h-1zM285 65h1v1h-1zM261 81h1v1h-1zM251 88h1v1h-1zM248 90h1v1h-1zM244 95h1v1h-1zM222 106h1v1h-1zM226 106h1v1h-1zM215 110h1v1h-1zM202 117h1v1h-1zM182 127h1v1h-1zM180 128h1v1h-1zM167 134h1v1h-1zM172 134h1v1h-1zM158 138h1v1h-1zM161 139h1v1h-1zM154 142h1v1h-1zM144 144h1v1h-1zM147 145h1v1h-1zM119 154h1v1h-1zM117 157h1v1h-1zM103 160h1v1h-1zM109 160h1v1h-1zM101 163h1v1h-1zM84 167h1v1h-1zM90 167h1v1h-1zM73 171h1v1h-1zM55 180h1v1h-1z"/>
<path fill="#ccccee" d="M85 169h1v1h-1z"/>
<path fill="#ccccff" d="M329 16h1v1h-1zM276 74h1v1h-1zM262 86h1v1h-1zM257 90h1v1h-1zM257 92h1v1h-1zM234 108h1v1h-1zM216 118h1v1h-1zM198 129h1v1h-1zM186 135h1v1h-1zM164 144h1v1h-1zM158 145h1v1h-1zM160 145h1v1h-1zM163 145h1v1h-1zM160 146h1v1h-1zM155 148h1v1h-1zM121 159h1v1h-1zM107 162h1v1h-1zM111 162h1v1h-1zM93 167h1v1h-1zM67 173h1v1h-1z"/>
<path fill="#ccddcc" d="M288 65h1v1h-1z"/>
<path fill="#ccddee" d="M267 84h1v1h-1z"/>
<path fill="#cceedd" d="M93 168h1v1h-1z"/>
<path fill="#ccffcc" d="M329 9h1v1h-1zM287 66h1v1h-1zM278 75h1v1h-1zM262 88h1v1h-1zM245 103h1v1h-1zM232 114h1v1h-1zM229 116h1v1h-1zM207 127h1v1h-1zM190 138h1v1h-1zM179 143h1v1h-1zM170 146h1v1h-1zM135 157h1v1h-1zM138 158h1v1h-1zM124 162h1v1h-1zM112 163h1v1h-1z"/>
<path fill="#dd0022" d="M288 64h1v1h-1zM64 175h1v1h-1z"/>
<path fill="#dd1100" d="M59 177h1v1h-1z"/>
<path fill="#dd2200" d="M261 89h1v1h-1z"/>
<path fill="#dd3311" d="M313 34h1v1h-1zM241 105h1v1h-1zM121 161h1v1h-1z"/>
<path fill="#dd3366" d="M59 176h1v1h-1z"/>
<path fill="#dd6666" d="M95 167h1v1h-1z"/>
<path fill="#dd7766" d="M107 165h1v1h-1z"/>
<path fill="#dd88aa" d="M278 73h1v1h-1z"/>
<path fill="#dd88bb" d="M313 35h1v1h-1z"/>
<path fill="#dd99bb" d="M113 162h1v1h-1z"/>
<path fill="#ddaa99" d="M82 170h1v1h-1z"/>
<path fill="#ddbb88" d="M101 167h1v1h-1z"/>
<path fill="#ddbbcc" d="M230 111h1v1h-1z"/>
<path fill="#ddccaa" d="M137 156h1v1h-1z"/>
<path fill="#ddccee" d="M89 168h1v1h-1z"/>
<path fill="#ddccff" d="M119 160h1v1h-1z"/>
<path fill="#ddddcc" d="M221 119h1v1h-1z"/>
<path fill="#dddddd" d="M326 21h1v1h-1zM328 22h1v1h-1zM320 28h1v1h-1zM322 29h1v1h-1zM309 43h1v1h-1zM308 44h1v1h-1zM307 45h1v1h-1zM305 47h1v1h-1zM304 48h1v1h-1zM291 57h1v1h-1zM290 58h1v1h-1zM279 70h1v1h-1zM273 72h1v1h-1zM274 74h1v1h-1zM270 77h1v1h-1zM265 78h1v1h-1zM266 80h1v1h-1zM259 85h1v1h-1zM237 97h1v1h-1zM241 97h1v1h-1zM232 100h1v1h-1zM233 102h1v1h-1zM227 103h1v1h-1zM228 105h1v1h-1zM221 109h1v1h-1zM213 111h1v1h-1zM214 113h1v1h-1zM212 114h1v1h-1zM200 118h1v1h-1zM198 119h1v1h-1zM196 120h1v1h-1zM194 121h1v1h-1zM197 122h1v1h-1zM190 123h1v1h-1zM195 123h1v1h-1zM188 124h1v1h-1zM193 124h1v1h-1zM186 125h1v1h-1zM191 125h1v1h-1zM184 126h1v1h-1zM189 126h1v1h-1zM170 135h1v1h-1zM151 141h1v1h-1zM139 146h1v1h-1zM134 148h1v1h-1zM140 148h1v1h-1zM129 150h1v1h-1zM135 150h1v1h-1zM124 152h1v1h-1zM130 152h1v1h-1zM111 157h1v1h-1zM92 164h1v1h-1zM93 166h1v1h-1zM81 168h1v1h-1zM62 175h1v1h-1zM63 177h1v1h-1z"/>
<path fill="#ddddee" d="M306 46h1v1h-1zM302 50h1v1h-1zM299 53h1v1h-1z"/>
<path fill="#ddddff" d="M291 62h1v1h-1zM272 77h1v1h-1zM244 100h1v1h-1zM242 101h1v1h-1zM240 102h1v1h-1zM243 102h1v1h-1zM241 103h1v1h-1zM239 104h1v1h-1zM230 109h1v1h-1zM233 109h1v1h-1zM227 112h1v1h-1zM225 113h1v1h-1zM220 117h1v1h-1zM207 122h1v1h-1zM177 137h1v1h-1zM175 138h1v1h-1zM175 140h1v1h-1zM156 146h1v1h-1zM147 151h1v1h-1zM135 155h2v1h-2zM123 157h1v1h-1zM129 157h1v1h-1zM125 158h1v1h-1zM117 160h1v1h-1zM113 161h1v1h-1zM115 161h1v1h-1zM117 161h1v1h-1zM103 163h1v1h-1zM87 169h1v1h-1z"/>
<path fill="#ddeecc" d="M319 25h1v1h-1zM57 176h1v1h-1zM53 177h1v1h-1z"/>
<path fill="#ddeedd" d="M79 172h1v1h-1z"/>
<path fill="#ddeeee" d="M296 56h1v1h-1z"/>
<path fill="#ddffdd" d="M320 20h1v1h-1zM318 23h1v1h-1zM315 31h1v1h-1zM311 33h1v1h-1zM302 45h1v1h-1zM295 57h1v1h-1zM265 88h1v1h-1zM264 89h1v1h-1zM242 107h1v1h-1zM218 123h1v1h-1zM209 127h1v1h-1zM205 128h1v1h-1zM206 130h1v1h-1zM204 131h1v1h-1zM176 142h1v1h-1zM167 148h1v1h-1zM129 160h1v1h-1zM128 161h1v1h-1zM115 164h1v1h-1zM113 165h1v1h-1zM109 166h1v1h-1z"/>
<path fill="#ee0011" d="M279 73h1v1h-1z"/>
<path fill="#ee1100" d="M327 13h1v1h-1zM320 24h1v1h-1z"/>
<path fill="#ee1122" d="M288 63h1v1h-1z"/>
<path fill="#ee3311" d="M250 98h1v1h-1z"/>
<path fill="#ee3322" d="M231 112h1v1h-1z"/>
<path fill="#ee4444" d="M300 49h1v1h-1z"/>
<path fill="#ee5555" d="M265 85h1v1h-1z"/>
<path fill="#ee6655" d="M115 163h1v1h-1z"/>
<path fill="#ee7777" d="M309 40h1v1h-1z"/>
<path fill="#ee8877" d="M203 129h1v1h-1zM156 150h1v1h-1z"/>
<path fill="#eebbbb" d="M261 88h1v1h-1zM133 156h1v1h-1z"/>
<path fill="#eebbcc" d="M310 38h1v1h-1z"/>
<path fill="#eeccbb" d="M140 155h1v1h-1z"/>
<path fill="#eeccdd" d="M289 64h1v1h-1z"/>
<path fill="#eeccee" d="M91 168h1v1h-1z"/>
<path fill="#eeddcc" d="M250 99h1v1h-1z"/>
<path fill="#eedddd" d="M283 67h1v1h-1z"/>
<path fill="#eeeeee" d="M328 19h1v1h-1zM329 21h1v1h-1zM325 22h1v1h-1zM323 28h1v1h-1zM314 38h1v1h-1zM313 39h1v1h-1zM312 40h1v1h-1zM311 41h1v1h-1zM310 42h1v1h-1zM301 51h1v1h-1zM292 56h1v1h-1zM284 63h1v1h-1zM278 68h1v1h-1zM274 71h1v1h-1zM278 71h1v1h-1zM269 75h1v1h-1zM269 78h1v1h-1zM258 83h1v1h-1zM262 83h1v1h-1zM255 85h1v1h-1zM255 88h1v1h-1zM252 90h1v1h-1zM246 91h1v1h-1zM249 92h1v1h-1zM243 93h1v1h-1zM246 94h1v1h-1zM240 95h1v1h-1zM238 99h1v1h-1zM220 107h1v1h-1zM218 108h1v1h-1zM223 108h1v1h-1zM211 112h1v1h-1zM201 120h1v1h-1zM199 121h1v1h-1zM192 122h1v1h-1zM187 127h1v1h-1zM185 128h1v1h-1zM183 129h1v1h-1zM181 130h1v1h-1zM171 132h1v1h-1zM169 133h1v1h-1zM168 136h1v1h-1zM160 137h1v1h-1zM159 140h1v1h-1zM146 143h1v1h-1zM152 143h1v1h-1zM145 146h1v1h-1zM125 154h1v1h-1zM116 155h1v1h-1zM120 156h1v1h-1zM108 158h1v1h-1zM112 159h1v1h-1zM100 161h1v1h-1zM104 162h1v1h-1zM89 165h1v1h-1zM78 169h1v1h-1zM70 172h1v1h-1zM74 173h1v1h-1zM58 179h1v1h-1z"/>
<path fill="#eeeeff" d="M328 15h1v1h-1zM327 17h1v1h-1zM297 56h1v1h-1zM294 59h1v1h-1zM292 61h1v1h-1zM279 71h1v1h-1zM266 82h1v1h-1zM265 83h1v1h-1zM256 90h1v1h-1zM232 107h1v1h-1zM229 109h1v1h-1zM226 111h1v1h-1zM227 113h1v1h-1zM214 118h1v1h-1zM214 119h1v1h-1zM215 120h1v1h-1zM209 122h1v1h-1zM211 122h1v1h-1zM208 124h1v1h-1zM204 126h1v1h-1zM198 128h1v1h-1zM192 130h1v1h-1zM190 131h1v1h-1zM187 134h1v1h-1zM181 135h1v1h-1zM185 135h1v1h-1zM182 137h1v1h-1zM170 142h1v1h-1zM168 143h1v1h-1zM162 145h1v1h-1zM158 146h1v1h-1zM154 147h1v1h-1zM144 150h1v1h-1zM135 153h1v1h-1zM132 154h1v1h-1zM116 159h1v1h-1zM123 159h2v1h-2zM109 162h1v1h-1zM105 163h1v1h-1zM99 164h1v1h-1zM104 165h1v1h-1zM99 166h1v1h-1zM63 174h1v1h-1zM56 176h1v1h-1z"/>
<path fill="#eeffee" d="M327 9h1v1h-1zM329 10h1v1h-1zM322 21h1v1h-1zM313 30h1v1h-1zM277 74h1v1h-1zM263 90h1v1h-1zM256 96h1v1h-1zM233 111h1v1h-1zM228 114h1v1h-1zM217 121h1v1h-1zM220 122h1v1h-1zM202 131h1v1h-1zM177 144h1v1h-1zM166 146h1v1h-1zM149 154h1v1h-1zM151 154h1v1h-1zM123 160h1v1h-1zM87 171h1v1h-1zM84 172h1v1h-1zM71 175h1v1h-1z"/>
<path fill="#ff0000" d="M324 18h1v1h-1zM309 39h1v1h-1zM301 49h1v1h-1zM270 81h1v1h-1zM260 90h1v1h-1zM251 97h1v1h-1zM246 101h1v1h-1zM235 109h1v1h-1zM219 119h1v1h-1zM214 122h1v1h-1zM209 125h1v1h-1zM203 128h1v1h-1zM192 134h1v1h-1zM185 137h1v1h-1zM174 142h1v1h-1zM169 144h1v1h-1zM162 147h1v1h-1zM156 149h2v1h-2zM151 151h1v1h-1zM145 153h1v1h-1zM139 155h1v1h-1zM133 157h1v1h-1zM126 159h1v1h-1zM120 161h1v1h-1zM101 166h2v1h-2zM89 169h2v1h-2zM77 172h2v1h-2z"/>
<path fill="#ff1111" d="M316 29h1v1h-1zM280 72h1v1h-1zM256 93h1v1h-1zM240 105h1v1h-1zM236 108h1v1h-1zM230 112h1v1h-1zM224 116h1v1h-1zM197 131h1v1h-1zM191 134h1v1h-1zM186 137h1v1h-1z"/>
<path fill="#ff2222" d="M245 102h1v1h-1zM225 115h1v1h-1zM220 119h1v1h-1zM198 131h1v1h-1zM180 139h1v1h-1zM150 151h1v1h-1zM132 157h1v1h-1z"/>
<path fill="#ff3333" d="M327 14h1v1h-1zM317 28h1v1h-1zM289 63h1v1h-1zM225 116h1v1h-1zM208 125h1v1h-1zM208 126h1v1h-1zM202 129h1v1h-1zM175 142h1v1h-1zM168 145h1v1h-1zM163 147h1v1h-1zM144 153h1v1h-1zM138 155h1v1h-1z"/>
<path fill="#ff4444" d="M271 81h1v1h-1zM179 140h2v1h-2zM168 144h1v1h-1zM163 146h1v1h-1zM144 154h1v1h-1zM115 162h1v1h-1z"/>
<path fill="#ff5555" d="M328 13h1v1h-1zM324 19h1v1h-1zM317 29h1v1h-1zM316 30h1v1h-1zM309 38h1v1h-1zM270 82h1v1h-1zM213 122h1v1h-1zM197 132h1v1h-1zM181 139h1v1h-1zM173 142h1v1h-1zM132 158h1v1h-1zM107 164h1v1h-1z"/>
<path fill="#ff6655" d="M215 122h1v1h-1z"/>
<path fill="#ff6666" d="M308 39h1v1h-1zM308 40h1v1h-1zM245 101h1v1h-1zM241 104h1v1h-1zM236 109h1v1h-1zM220 118h1v1h-1zM213 123h1v1h-1zM202 128h1v1h-1zM191 135h1v1h-1zM186 136h1v1h-1zM119 161h1v1h-1zM114 162h1v1h-1zM103 166h1v1h-1z"/>
<path fill="#ff7777" d="M321 23h1v1h-1zM261 90h1v1h-1zM229 113h1v1h-1zM204 128h1v1h-1z"/>
<path fill="#ff8888" d="M271 80h1v1h-1zM257 93h1v1h-1zM246 102h1v1h-1zM235 108h1v1h-1zM229 112h1v1h-1zM214 123h1v1h-1zM196 131h1v1h-1zM196 132h1v1h-1zM192 133h1v1h-1zM167 145h1v1h-1zM161 147h1v1h-1zM125 159h1v1h-1zM121 160h1v1h-1zM89 170h1v1h-1z"/>
<path fill="#ff9999" d="M328 12h1v1h-1zM320 25h1v1h-1zM247 101h1v1h-1zM234 109h1v1h-1zM226 115h1v1h-1zM218 119h1v1h-1zM187 137h1v1h-1zM179 139h1v1h-1zM175 141h1v1h-1zM157 148h1v1h-1zM155 149h1v1h-1zM145 154h1v1h-1zM102 165h1v1h-1zM91 169h1v1h-1zM77 173h1v1h-1z"/>
<path fill="#ffaa99" d="M323 18h1v1h-1z"/>
<path fill="#ffaaaa" d="M316 28h1v1h-1zM289 62h1v1h-1zM280 71h1v1h-1zM255 93h1v1h-1zM246 100h1v1h-1zM231 111h1v1h-1zM190 134h1v1h-1zM185 138h1v1h-1zM174 143h1v1h-1zM162 146h1v1h-1zM137 155h1v1h-1zM131 157h1v1h-1zM127 158h1v1h-1zM131 158h1v1h-1zM133 158h1v1h-1zM103 165h1v1h-1zM90 168h1v1h-1zM76 173h1v1h-1z"/>
<path fill="#ffbbbb" d="M326 14h1v1h-1zM324 17h1v1h-1zM280 73h1v1h-1zM269 82h1v1h-1zM235 110h1v1h-1zM224 115h1v1h-1zM214 121h1v1h-1zM209 124h1v1h-1zM207 125h1v1h-1zM207 126h1v1h-1zM209 126h1v1h-1zM187 136h1v1h-1zM174 141h1v1h-1zM173 143h1v1h-1zM167 144h1v1h-1zM151 150h1v1h-1zM149 151h1v1h-1zM143 153h1v1h-1zM120 162h1v1h-1z"/>
<path fill="#ffccbb" d="M152 151h1v1h-1z"/>
<path fill="#ffcccc" d="M325 18h1v1h-1zM323 20h1v1h-1zM321 24h1v1h-1zM292 60h1v1h-1zM260 91h1v1h-1zM239 105h1v1h-1zM226 116h1v1h-1zM224 117h1v1h-1zM219 118h1v1h-1zM215 121h1v1h-1zM198 130h1v1h-1zM193 134h1v1h-1zM162 148h1v1h-1zM158 149h1v1h-1zM155 150h1v1h-1zM149 152h1v1h-1zM146 153h1v1h-1zM143 154h1v1h-1zM134 157h1v1h-1zM119 162h1v1h-1zM90 170h1v1h-1zM78 173h1v1h-1z"/>
<path fill="#ffdddd" d="M326 13h1v1h-1zM315 29h1v1h-1zM315 30h1v1h-1zM314 33h1v1h-1zM314 34h1v1h-1zM298 54h1v1h-1zM281 72h1v1h-1zM259 90h1v1h-1zM237 108h1v1h-1zM218 120h1v1h-1zM210 125h1v1h-1zM203 127h1v1h-1zM198 132h1v1h-1zM190 135h1v1h-1zM185 136h1v1h-1zM156 148h1v1h-1zM157 150h1v1h-1zM145 152h1v1h-1zM139 154h1v1h-1zM94 167h1v1h-1zM102 167h1v1h-1zM88 170h1v1h-1z"/>
<path fill="#ffddee" d="M264 85h1v1h-1z"/>
<path fill="#ffeeee" d="M328 14h1v1h-1zM324 20h1v1h-1zM318 28h1v1h-1zM279 74h1v1h-1zM274 76h1v1h-1zM257 94h1v1h-1zM249 98h1v1h-1zM247 100h1v1h-1zM244 102h1v1h-1zM242 104h1v1h-1zM239 106h1v1h-1zM237 109h1v1h-1zM223 116h1v1h-1zM204 127h1v1h-1zM201 128h1v1h-1zM197 130h1v1h-1zM191 133h1v1h-1zM184 137h1v1h-1zM181 138h1v1h-1zM169 143h1v1h-1zM170 144h1v1h-1zM164 146h1v1h-1zM161 148h1v1h-1zM146 154h1v1h-1zM126 158h1v1h-1zM134 158h1v1h-1z"/>
<path fill="#ffeeff" d="M236 107h1v1h-1z"/>
</g>
<g transform="translate(5.000 5.650) scale(6.2500)" fill="#000" shape-rendering="crispEdges">
<rect x="46" y="5" width="289" height="1"/>
<rect x="46" y="183" width="289" height="1"/>
<rect x="46" y="5" width="1" height="179"/>
<rect x="334" y="5" width="1" height="179"/>
<rect x="52" y="180" width="1" height="3"/>
<rect x="52" y="6" width="1" height="3"/>
<rect x="66" y="181" width="1" height="2"/>
<rect x="66" y="6" width="1" height="2"/>
<rect x="80" y="181" width="1" height="2"/>
<rect x="80" y="6" width="1" height="2"/>
<rect x="93" y="181" width="1" height="2"/>
<rect x="93" y="6" width="1" height="2"/>
<rect x="107" y="180" width="1" height="3"/>
<rect x="107" y="6" width="1" height="3"/>
<rect x="121" y="181" width="1" height="2"/>
<rect x="121" y="6" width="1" height="2"/>
<rect x="135" y="181" width="1" height="2"/>
<rect x="135" y="6" width="1" height="2"/>
<rect x="149" y="181" width="1" height="2"/>
<rect x="149" y="6" width="1" height="2"/>
<rect x="163" y="180" width="1" height="3"/>
<rect x="163" y="6" width="1" height="3"/>
<rect x="176" y="181" width="1" height="2"/>
<rect x="176" y="6" width="1" height="2"/>
<rect x="190" y="181" width="1" height="2"/>
<rect x="190" y="6" width="1" height="2"/>
<rect x="204" y="181" width="1" height="2"/>
<rect x="204" y="6" width="1" height="2"/>
<rect x="218" y="180" width="1" height="3"/>
<rect x="218" y="6" width="1" height="3"/>
<rect x="232" y="181" width="1" height="2"/>
<rect x="232" y="6" width="1" height="2"/>
<rect x="245" y="181" width="1" height="2"/>
<rect x="245" y="6" width="1" height="2"/>
<rect x="259" y="181" width="1" height="2"/>
<rect x="259" y="6" width="1" height="2"/>
<rect x="273" y="180" width="1" height="3"/>
<rect x="273" y="6" width="1" height="3"/>
<rect x="287" y="181" width="1" height="2"/>
<rect x="287" y="6" width="1" height="2"/>
<rect x="301" y="181" width="1" height="2"/>
<rect x="301" y="6" width="1" height="2"/>
<rect x="315" y="181" width="1" height="2"/>
<rect x="315" y="6" width="1" height="2"/>
<rect x="328" y="180" width="1" height="3"/>
<rect x="328" y="6" width="1" height="3"/>
<rect x="47" y="6" width="2" height="1"/>
<rect x="332" y="6" width="2" height="1"/>
<rect x="47" y="14" width="2" height="1"/>
<rect x="333" y="14" width="1" height="1"/>
<rect x="47" y="22" width="3" height="1"/>
<rect x="331" y="22" width="3" height="1"/>
<rect x="47" y="29" width="2" height="1"/>
<rect x="333" y="29" width="1" height="1"/>
<rect x="47" y="37" width="2" height="1"/>
<rect x="333" y="37" width="1" height="1"/>
<rect x="47" y="45" width="2" height="1"/>
<rect x="332" y="45" width="2" height="1"/>
<rect x="47" y="53" width="2" height="1"/>
<rect x="332" y="53" width="2" height="1"/>
<rect x="47" y="61" width="4" height="1"/>
<rect x="331" y="61" width="3" height="1"/>
<rect x="47" y="69" width="2" height="1"/>
<rect x="332" y="69" width="2" height="1"/>
<rect x="47" y="77" width="2" height="1"/>
<rect x="332" y="77" width="2" height="1"/>
<rect x="47" y="85" width="2" height="1"/>
<rect x="332" y="85" width="2" height="1"/>
<rect x="47" y="93" width="2" height="1"/>
<rect x="332" y="93" width="2" height="1"/>
<rect x="47" y="101" width="3" height="1"/>
<rect x="331" y="101" width="3" height="1"/>
<rect x="47" y="109" width="2" height="1"/>
<rect x="333" y="109" width="1" height="1"/>
<rect x="47" y="116" width="2" height="1"/>
<rect x="333" y="116" width="1" height="1"/>
<rect x="47" y="124" width="2" height="1"/>
<rect x="333" y="124" width="1" height="1"/>
<rect x="47" y="132" width="2" height="1"/>
<rect x="333" y="132" width="1" height="1"/>
<rect x="47" y="140" width="3" height="1"/>
<rect x="331" y="140" width="3" height="1"/>
<rect x="47" y="148" width="2" height="1"/>
<rect x="332" y="148" width="2" height="1"/>
<rect x="47" y="156" width="2" height="1"/>
<rect x="332" y="156" width="2" height="1"/>
<rect x="47" y="164" width="2" height="1"/>
<rect x="332" y="164" width="2" height="1"/>
<rect x="47" y="172" width="2" height="1"/>
<rect x="332" y="172" width="2" height="1"/>
<rect x="47" y="180" width="4" height="1"/>
<rect x="331" y="180" width="3" height="1"/>
</g>
<g shape-rendering="crispEdges">
<rect x="436.25" y="136.90" width="6.25" height="6.25" fill="#c0c0c0"/>
<rect x="442.50" y="136.90" width="43.75" height="6.25" fill="#000000"/>
<rect x="486.25" y="136.90" width="6.25" height="6.25" fill="#808080"/>
<rect x="436.25" y="243.15" width="6.25" height="6.25" fill="#c4c4ff"/>
<rect x="442.50" y="243.15" width="6.25" height="6.25" fill="#5a5af0"/>
<rect x="448.75" y="243.15" width="6.25" height="6.25" fill="#4a4af0"/>
<rect x="455.00" y="243.15" width="6.25" height="6.25" fill="#9a9af8"/>
<rect x="461.25" y="243.15" width="6.25" height="6.25" fill="#7878f4"/>
<rect x="467.50" y="243.15" width="6.25" height="6.25" fill="#5a5af0"/>
<rect x="473.75" y="243.15" width="6.25" height="6.25" fill="#9a9af8"/>
<rect x="480.00" y="243.15" width="6.25" height="6.25" fill="#5a5af0"/>
<rect x="486.25" y="243.15" width="6.25" height="6.25" fill="#8a8af8"/>
<rect x="436.25" y="349.40" width="6.25" height="6.25" fill="#ffc0c0"/>
<rect x="442.50" y="349.40" width="6.25" height="6.25" fill="#ff4040"/>
<rect x="448.75" y="349.40" width="37.50" height="6.25" fill="#ff8080"/>
<rect x="436.25" y="455.65" width="6.25" height="6.25" fill="#a0ffc0"/>
<rect x="442.50" y="455.65" width="6.25" height="6.25" fill="#00f020"/>
<rect x="448.75" y="455.65" width="6.25" height="6.25" fill="#60ffa0"/>
<rect x="455.00" y="455.65" width="6.25" height="6.25" fill="#60ffa0"/>
<rect x="461.25" y="455.65" width="6.25" height="6.25" fill="#00f020"/>
<rect x="467.50" y="455.65" width="6.25" height="6.25" fill="#e0ffe8"/>
<rect x="473.75" y="455.65" width="6.25" height="6.25" fill="#00f020"/>
<rect x="480.00" y="455.65" width="6.25" height="6.25" fill="#c0ffd0"/>
</g>
<text class="tk" x="327.62" y="1241.50" text-anchor="middle" filter="url(#fk)">0.0</text>
<text class="tk" x="671.38" y="1241.50" text-anchor="middle" filter="url(#fk)">0.2</text>
<text class="tk" x="1021.38" y="1241.50" text-anchor="middle" filter="url(#fk)">0.4</text>
<text class="tk" x="1365.12" y="1241.50" text-anchor="middle" filter="url(#fk)">0.6</text>
<text class="tk" x="1708.88" y="1241.50" text-anchor="middle" filter="url(#fk)">0.8</text>
<text class="tk" x="2052.62" y="1241.50" text-anchor="middle" filter="url(#fk)">1.0</text>
<text class="tk" x="270.50" y="166.85" text-anchor="end" filter="url(#fk)">3.0</text>
<text class="tk" x="270.50" y="410.60" text-anchor="end" filter="url(#fk)">2.5</text>
<text class="tk" x="270.50" y="660.60" text-anchor="end" filter="url(#fk)">2.0</text>
<text class="tk" x="270.50" y="904.35" text-anchor="end" filter="url(#fk)">1.5</text>
<text class="tk" x="270.50" y="1154.35" text-anchor="end" filter="url(#fk)">1.0</text>
<text class="lg" x="600.00" y="160.60" text-anchor="start" filter="url(#fk)" fill="#000000" xml:space="preserve">Gm <tspan dy="6.5">=</tspan><tspan dy="-6.5"> 0.2</tspan></text>
<text class="lg" x="600.00" y="266.85" text-anchor="start" filter="url(#fb)" fill="#0000ff" xml:space="preserve">Gm  <tspan dy="6.5">=</tspan><tspan dy="-6.5"> 0.4</tspan></text>
<text class="lg" x="600.00" y="373.10" text-anchor="start" filter="url(#fr)" fill="#ff0000" xml:space="preserve">Gm  <tspan dy="6.5">=</tspan><tspan dy="-6.5"> 0.6</tspan></text>
<text class="lg" x="600.00" y="479.35" text-anchor="start" filter="url(#fg)" fill="#00ff00" xml:space="preserve">Gm  <tspan dy="6.5">=</tspan><tspan dy="-6.5"> 0.8</tspan></text>
<text class="ax" x="1189.50" y="1375.50" text-anchor="middle" filter="url(#fk)">η</text>
<g filter="url(#fy)"><text class="ax" transform="translate(96 696) rotate(-90)" x="0" y="0">u</text></g>
<g filter="url(#ff)"><text class="ax" style="font-weight:normal;font-size:68px" transform="translate(106.5 647.5) rotate(-90) skewX(-15)" x="0" y="0">f</text></g>
<g filter="url(#fy)"><text class="ax" transform="translate(96 696) rotate(-90)" x="101.5" y="0"><tspan style="font-style:normal;font-size:81.25px" y="1">(</tspan><tspan x="128.5" y="0">η</tspan><tspan style="font-style:normal;font-size:81.25px" x="171.0" y="1">)</tspan></text></g>
</svg></body></html>
